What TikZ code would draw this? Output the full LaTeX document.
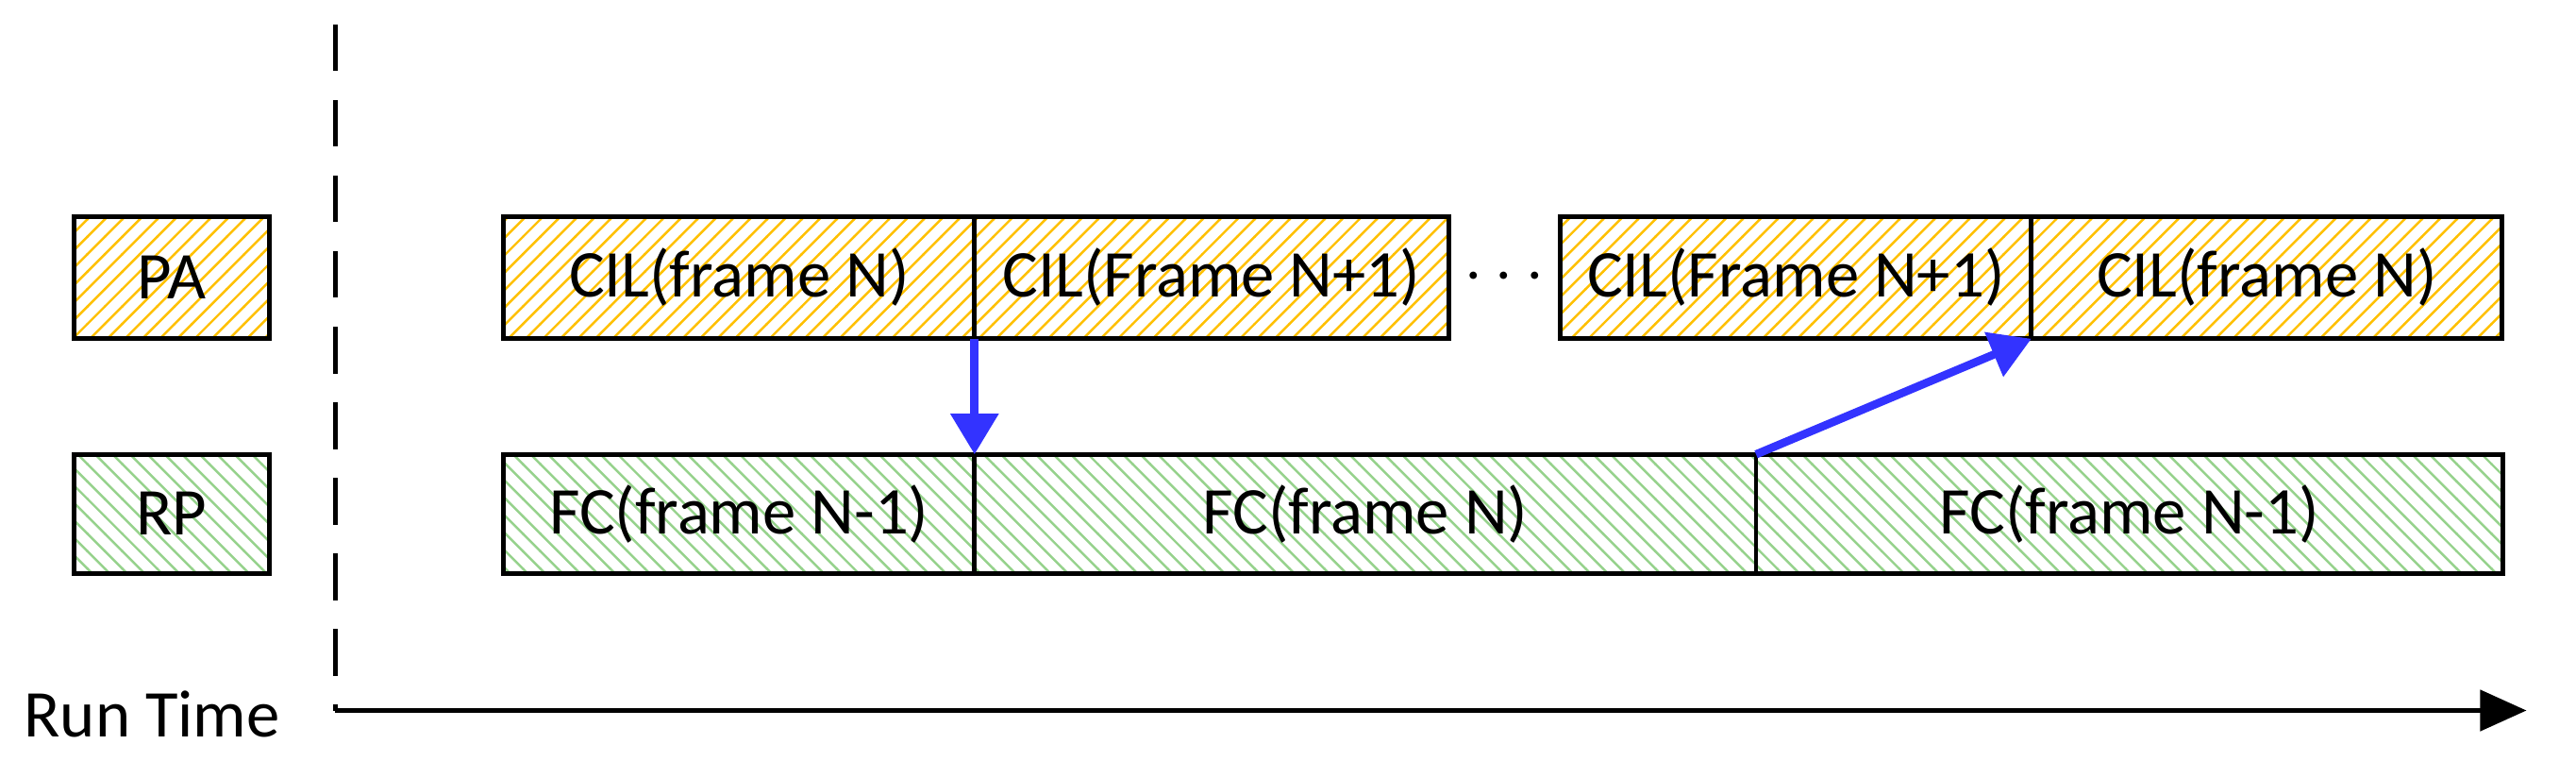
\documentclass[tikz,border=0pt]{standalone}
\usepackage{fontspec}
\setmainfont{Carlito}
\usepackage{xcolor}
\usetikzlibrary{positioning, arrows.meta, patterns}
\definecolor{paorange}{RGB}{255,192,0}
\definecolor{rpgreen}{RGB}{150,210,140}
\definecolor{arrowblue}{RGB}{51,51,255}
\tikzstyle{pa} = [rectangle, minimum height=0.74cm, inner sep=0pt, outer sep=0pt, draw=black, line width=0.8pt, pattern=north east lines, pattern color=paorange]
\tikzstyle{rp} = [rectangle, minimum height=0.72cm, inner sep=0pt, outer sep=0pt, draw=black, line width=0.8pt, pattern=north west lines, pattern color=rpgreen]
\tikzstyle{arrow} = [line width=1.4pt, arrowblue, -{Triangle[length=7pt,width=8pt]}]

\begin{document}
\begin{tikzpicture}[x=0.01cm,y=0.01cm,font=\fontsize{11.5}{13}\selectfont]
	\useasboundingbox (0,0) rectangle (1560,460);
	\node (pa) [pa, minimum width=1.18cm] at (104,292) {PA};
	\node (rp) [rp, minimum width=1.18cm] at (104,149) {RP};
	\node (cil1) [pa, minimum width=2.85cm, anchor=west] at (305,292) {CIL(frame N)};
	\node (cil2) [pa, minimum width=2.87cm, right=0pt of cil1] {CIL(Frame N+1)};
	\node (cil3) [pa, minimum width=2.85cm, anchor=west] at (945,292) {CIL(Frame N+1)};
	\node (cil4) [pa, minimum width=2.85cm, right=0pt of cil3] {CIL(frame N)};
	\node (dots) at (911,292) {\textbf{$\cdots$}};
	\node (fc1) [rp, minimum width=2.85cm, anchor=west] at (305,149) {FC(frame N-1)};
	\node (fc2) [rp, minimum width=4.73cm, right=0pt of fc1] {FC(frame N)};
	\node (fc3) [rp, minimum width=4.52cm, right=0pt of fc2] {FC(frame N-1)};
	\coordinate (top) at (203,445);
	\coordinate (origin) at (203,30);
	\coordinate (tend) at (1530,30);
	\node (runtime) [anchor=east] at (182,28) {Run Time};

	\draw [dashed, line width=0.8pt, dash pattern=on 8pt off 5pt] (top) -- (origin);
	\draw [line width=0.8pt, -{Triangle[length=8pt,width=7pt]}] (origin) -- (tend);
	\draw [arrow] (cil1.south east) -- (fc1.north east);
	\draw [arrow] (fc2.north east) -- (cil3.south east);
\end{tikzpicture}
\end{document}
